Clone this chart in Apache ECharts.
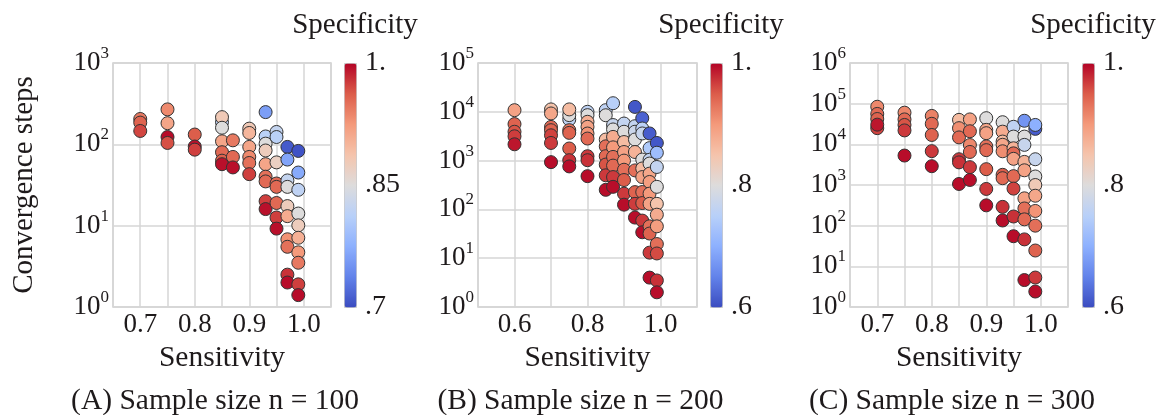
<!DOCTYPE html>
<html>
<head>
<meta charset="utf-8">
<script src="https://cdn.jsdelivr.net/npm/echarts@6/dist/echarts.min.js"></script>
<style>
  html, body { margin: 0; padding: 0; background: #ffffff; }
  #chart { width: 1159px; height: 415px; }
</style>
</head>
<body>
<div id="chart"></div>
<script>
// ---- Data: sensitivity columns, convergence steps and specificity per point ----

// (A) n = 100
const sensitivityA = [0.70, 0.75, 0.80, 0.85, 0.87, 0.90, 0.93, 0.95, 0.97, 0.99];
const stepsA = [
  [205, 185, 146],
  [269, 182, 123, 104],
  [132, 94, 86],
  [187, 216, 160, 109, 80, 63, 57],
  [112, 70, 52],
  [156, 138, 93, 70, 59, 43],
  [249, 125, 102, 84, 57, 40, 35, 20, 16],
  [142, 123, 60, 33, 30, 19, 12.6, 9.2],
  [93, 65, 36, 30, 17.4, 13.1, 6.8, 5.5, 2.5, 2.0],
  [83, 45, 27.6, 14.1, 10.1, 7.1, 4.7, 3.5, 1.9, 1.4]
];
const specificityA = [
  [0.945, 0.958, 0.972],
  [0.935, 0.915, 0.997, 0.968],
  [0.962, 0.995, 0.975],
  [0.82, 0.88, 0.85, 0.915, 0.955, 0.96, 0.995],
  [0.945, 0.955, 0.995],
  [0.88, 0.90, 0.915, 0.935, 0.95, 0.975],
  [0.76, 0.815, 0.85, 0.875, 0.915, 0.95, 0.955, 0.975, 0.995],
  [0.825, 0.815, 0.87, 0.955, 0.955, 0.955, 0.975, 0.995],
  [0.71, 0.765, 0.825, 0.85, 0.875, 0.91, 0.93, 0.95, 0.98, 0.997],
  [0.705, 0.77, 0.82, 0.85, 0.875, 0.905, 0.925, 0.945, 0.975, 0.997]
];

// (B) n = 200
const sensitivityB = [0.60, 0.70, 0.75, 0.80, 0.85, 0.87, 0.90, 0.93, 0.95, 0.97, 0.99];
const stepsB = [
  [10800, 5600, 3900, 3150, 2160],
  [11200, 9250, 4900, 4200, 3300, 2300, 930],
  [6950, 8550, 11200, 4200, 3700, 1770, 1020, 760],
  [10000, 8540, 6240, 4920, 3590, 2830, 1230, 1020, 480],
  [10800, 8500, 2700, 1960, 1230, 830, 500, 252],
  [15000, 5350, 4350, 3060, 1870, 1190, 790, 460, 290],
  [5750, 3900, 2400, 1500, 1000, 650, 400, 210, 125],
  [12600, 5070, 3900, 2700, 1500, 630, 226, 130, 68],
  [7400, 4550, 3600, 1050, 690, 460, 227, 135, 59, 34],
  [3600, 1800, 1040, 870, 540, 365, 210, 130, 45, 32, 13, 4.0],
  [2300, 1450, 740, 290, 130, 78, 45, 19.5, 12.5, 3.5, 2.0]
];
const specificityB = [
  [0.89, 0.945, 0.955, 0.968, 0.99],
  [0.85, 0.885, 0.94, 0.945, 0.965, 0.97, 0.995],
  [0.76, 0.80, 0.86, 0.93, 0.945, 0.95, 0.975, 0.995],
  [0.76, 0.80, 0.875, 0.89, 0.905, 0.94, 0.97, 0.975, 0.995],
  [0.76, 0.80, 0.86, 0.935, 0.94, 0.955, 0.97, 0.995],
  [0.75, 0.77, 0.80, 0.88, 0.90, 0.935, 0.94, 0.97, 0.995],
  [0.765, 0.80, 0.86, 0.89, 0.90, 0.935, 0.95, 0.97, 0.995],
  [0.61, 0.765, 0.775, 0.80, 0.87, 0.935, 0.945, 0.968, 0.995],
  [0.62, 0.755, 0.77, 0.80, 0.86, 0.89, 0.935, 0.95, 0.97, 0.995],
  [0.615, 0.74, 0.765, 0.80, 0.885, 0.895, 0.90, 0.89, 0.935, 0.945, 0.97, 0.995],
  [0.61, 0.72, 0.765, 0.80, 0.85, 0.88, 0.895, 0.935, 0.96, 0.975, 0.995]
];

// (C) n = 300
const sensitivityC = [0.70, 0.75, 0.80, 0.85, 0.87, 0.90, 0.93, 0.95, 0.97, 0.99];
const stepsC = [
  [84000, 56000, 42000, 25000, 30500],
  [60000, 41000, 30000, 22000, 5300],
  [50000, 32000, 17000, 6800, 2900],
  [40000, 25000, 14800, 4300, 3600, 1060],
  [41000, 21000, 9600, 6500, 2750, 1330],
  [44000, 22700, 18800, 8900, 7200, 2450, 800, 316],
  [35000, 20500, 11700, 9750, 6750, 1780, 1470, 290, 134],
  [27000, 15500, 8000, 6000, 4400, 1650, 815, 168, 55],
  [38000, 15500, 9700, 3700, 2300, 470, 265, 143, 46, 4.6],
  [24000, 30000, 4300, 1620, 1000, 545, 230, 100, 24.5, 5.3, 2.4]
];
const specificityC = [
  [0.915, 0.94, 0.945, 0.965, 0.99],
  [0.915, 0.94, 0.955, 0.97, 0.995],
  [0.92, 0.94, 0.945, 0.97, 0.995],
  [0.86, 0.91, 0.94, 0.97, 0.975, 0.995],
  [0.89, 0.94, 0.915, 0.94, 0.97, 0.995],
  [0.80, 0.885, 0.89, 0.935, 0.94, 0.95, 0.97, 0.995],
  [0.80, 0.88, 0.86, 0.885, 0.91, 0.95, 0.94, 0.975, 0.995],
  [0.76, 0.80, 0.87, 0.94, 0.89, 0.94, 0.965, 0.975, 0.995],
  [0.67, 0.80, 0.77, 0.87, 0.89, 0.89, 0.935, 0.94, 0.975, 0.995],
  [0.615, 0.70, 0.77, 0.80, 0.84, 0.885, 0.905, 0.935, 0.945, 0.97, 0.995]
];

// Axis tick labels
const sensitivityLabelsA = [0.7, 0.8, 0.9, 1.0];
const sensitivityLabelsB = [0.6, 0.8, 1.0];
const sensitivityLabelsC = [0.7, 0.8, 0.9, 1.0];
const specificityTicksA = [0.7, 0.85, 1.0];
const specificityTicksB = [0.6, 0.8, 1.0];
const specificityTicksC = [0.6, 0.8, 1.0];
const captions = ['(A) Sample size n = 100', '(B) Sample size n = 200', '(C) Sample size n = 300'];

// ---- Styling ----
const FONT = '"Liberation Serif", "Times New Roman", serif';
const INK = '#1e1a1b';
const GRIDLINE = '#d6d6d6';
const FRAME = '#cfcfcf';
const COOLWARM = ['#3b4cc0', '#6282ea', '#8db0fe', '#b8d0f9', '#dddcdc',
                  '#f5c4ac', '#f49a7b', '#dc5d4a', '#b40426'];

const PLOT_TOP = 63;
const PLOT_HEIGHT = 244;
const NAME_SIZE = 29.5;

const panels = [
  { sens: sensitivityA, steps: stepsA, spec: specificityA, xLabels: sensitivityLabelsA,
    cTicks: specificityTicksA, caption: captions[0],
    xMin: 0.65, xMax: 1.05, xStep: 0.05, yMax: 1e3, cMin: 0.7, cMax: 1.0,
    left: 113, width: 218, barLeft: 344 },
  { sens: sensitivityB, steps: stepsB, spec: specificityB, xLabels: sensitivityLabelsB,
    cTicks: specificityTicksB, caption: captions[1],
    xMin: 0.5, xMax: 1.1, xStep: 0.1, yMax: 1e5, cMin: 0.6, cMax: 1.0,
    left: 478, width: 219, barLeft: 710 },
  { sens: sensitivityC, steps: stepsC, spec: specificityC, xLabels: sensitivityLabelsC,
    cTicks: specificityTicksC, caption: captions[2],
    xMin: 0.65, xMax: 1.05, xStep: 0.05, yMax: 1e6, cMin: 0.6, cMax: 1.0,
    left: 850, width: 218, barLeft: 1082 }
];

const BAR_WIDTH = 12;

function specLabel(v) {
  if (Math.abs(v - 1) < 1e-9) return '1.';
  return String(+v.toFixed(2)).replace(/^0/, '');
}

const option = {
  animation: false,
  textStyle: { fontFamily: FONT, color: INK },
  title: [],
  grid: [],
  xAxis: [],
  yAxis: [],
  visualMap: [],
  series: []
};

panels.forEach((p, i) => {
  // scatter plot area
  option.grid.push({
    left: p.left, top: PLOT_TOP, width: p.width, height: PLOT_HEIGHT,
    show: true, borderColor: FRAME, borderWidth: 1.5, containLabel: false
  });
  option.xAxis.push({
    gridIndex: i, type: 'value', min: p.xMin, max: p.xMax, interval: p.xStep,
    name: 'Sensitivity', nameLocation: 'middle', nameGap: 36,
    nameTextStyle: { fontSize: NAME_SIZE, color: INK, fontFamily: FONT },
    axisLine: { show: false }, axisTick: { show: false },
    splitLine: { show: true, lineStyle: { color: GRIDLINE, width: 1.5 } },
    axisLabel: {
      margin: 4, fontSize: 27, color: INK, fontFamily: FONT,
      showMinLabel: true, showMaxLabel: true,
      formatter: v => p.xLabels.some(t => Math.abs(t - v) < 1e-6) ? v.toFixed(1) : ''
    }
  });
  option.yAxis.push({
    gridIndex: i, type: 'log', logBase: 10, min: 1, max: p.yMax,
    name: i === 0 ? 'Convergence steps' : '', nameLocation: 'middle', nameGap: 74,
    nameTextStyle: { fontSize: 29, color: INK, fontFamily: FONT },
    axisLine: { show: false }, axisTick: { show: false },
    splitLine: { show: true, lineStyle: { color: GRIDLINE, width: 1.5 } },
    axisLabel: {
      margin: 4,
      formatter: v => '{b|10}{s|' + Math.round(Math.log10(v)) + '}',
      rich: {
        b: { fontSize: 27, lineHeight: 36, fontFamily: FONT, color: INK },
        s: { fontSize: 17, verticalAlign: 'top', fontFamily: FONT, color: INK }
      }
    }
  });
  option.series.push({
    type: 'scatter', xAxisIndex: i, yAxisIndex: i, symbolSize: 13,
    itemStyle: { borderColor: '#333333', borderWidth: 1, opacity: 1 },
    emphasis: { disabled: true },
    data: p.sens.flatMap((s, c) => p.steps[c].map((y, k) => [s, y, p.spec[c][k]]))
  });
  // colour bar
  option.visualMap.push({
    type: 'continuous', seriesIndex: i, dimension: 2,
    min: p.cMin, max: p.cMax, inRange: { color: COOLWARM },
    calculable: false, hoverLink: false, orient: 'vertical',
    itemWidth: BAR_WIDTH, itemHeight: PLOT_HEIGHT,
    left: p.barLeft, top: PLOT_TOP, padding: 0,
    borderColor: '#c8c8c8', borderWidth: 1, text: null
  });
  option.title.push({
    text: 'Specificity', left: p.barLeft + BAR_WIDTH / 2, top: 6, textAlign: 'center',
    textStyle: { fontSize: 29, fontWeight: 'normal', color: INK, fontFamily: FONT }
  });
  option.title.push({
    text: p.caption, left: p.left + p.width / 2 - 12, top: 381, textAlign: 'center',
    textStyle: { fontSize: NAME_SIZE, fontWeight: 'normal', color: INK, fontFamily: FONT }
  });
});

// tick labels beside each colour bar
panels.forEach((p, i) => {
  const g = 3 + i;
  option.grid.push({ left: p.barLeft, top: PLOT_TOP, width: BAR_WIDTH, height: PLOT_HEIGHT, show: false });
  option.xAxis.push({ gridIndex: g, type: 'value', min: 0, max: 1, show: false });
  option.yAxis.push({
    gridIndex: g, type: 'value', min: p.cMin, max: p.cMax, position: 'right',
    axisLine: { show: false }, axisTick: { show: false }, splitLine: { show: false },
    axisLabel: {
      customValues: p.cTicks, margin: 9, fontSize: 28, color: INK, fontFamily: FONT,
      formatter: specLabel
    }
  });
  option.series.push({ type: 'scatter', xAxisIndex: g, yAxisIndex: g, data: [] });
});

const chart = echarts.init(document.getElementById('chart'), null, { renderer: 'canvas' });
chart.setOption(option);
</script>
</body>
</html>
